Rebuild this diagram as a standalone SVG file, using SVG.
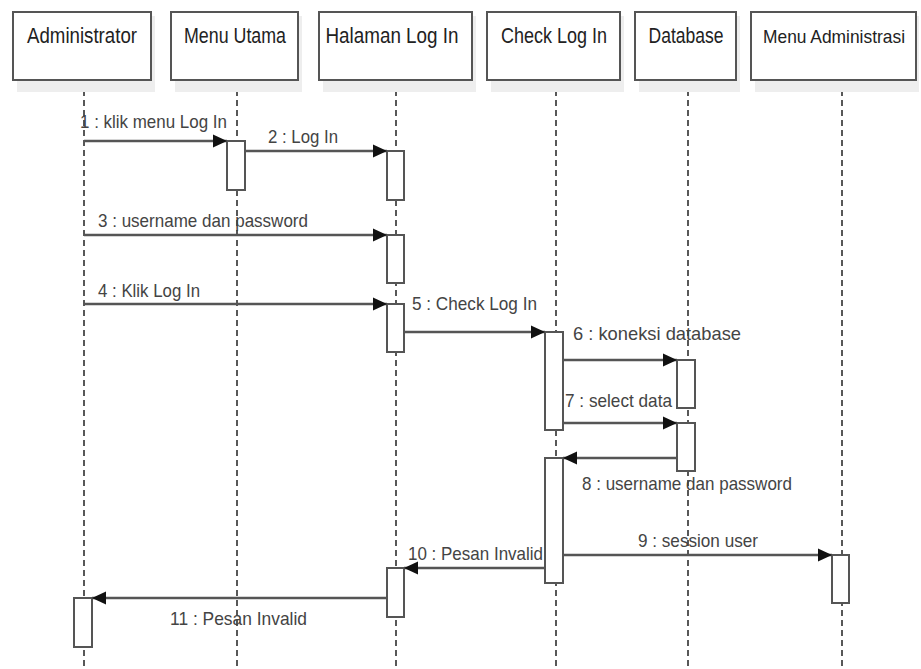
<svg xmlns="http://www.w3.org/2000/svg" width="921" height="669" viewBox="0 0 921 669">
<defs>
<marker id="ah" markerUnits="userSpaceOnUse" markerWidth="16" markerHeight="14" refX="14" refY="7" orient="auto">
<path d="M0,0.5 L14,7 L0,13.5 Z" fill="#111"/>
</marker>
<style>
.box{fill:#fff;stroke:#555;stroke-width:2}
.shadow{fill:#eee}
.life{stroke:#222;stroke-width:1.5;stroke-dasharray:6,4;fill:none}
.act{fill:#fff;stroke:#555;stroke-width:2}
.msg{stroke:#555;stroke-width:2.5;fill:none;marker-end:url(#ah)}
.hdr{font-family:"Liberation Sans",Arial,sans-serif;font-size:22px;fill:#222;text-anchor:middle}
.lbl{font-family:"Liberation Sans",Arial,sans-serif;font-size:19px;fill:#444}
</style>
</defs>
<rect width="921" height="669" fill="#fff"/>
<g id="lifelines">
<line class="life" x1="84" y1="80" x2="84" y2="669"/>
<line class="life" x1="237" y1="80" x2="237" y2="669"/>
<line class="life" x1="396" y1="80" x2="396" y2="669"/>
<line class="life" x1="556" y1="80" x2="556" y2="669"/>
<line class="life" x1="688" y1="80" x2="688" y2="669"/>
<line class="life" x1="842" y1="80" x2="842" y2="669"/>
</g>
<g id="administrator">
<rect class="shadow" x="17" y="16" width="138" height="76"/>
<rect class="box" x="13" y="12" width="138" height="68"/>
<text class="hdr" x="82" y="43" textLength="110" lengthAdjust="spacingAndGlyphs">Administrator</text>
</g>
<g id="menu-utama">
<rect class="shadow" x="175" y="16" width="127" height="76"/>
<rect class="box" x="171" y="12" width="127" height="68"/>
<text class="hdr" x="235" y="43" textLength="102" lengthAdjust="spacingAndGlyphs">Menu Utama</text>
</g>
<g id="halaman-log-in">
<rect class="shadow" x="323" y="16" width="153" height="76"/>
<rect class="box" x="319" y="12" width="153" height="68"/>
<text class="hdr" x="392" y="43" textLength="133" lengthAdjust="spacingAndGlyphs">Halaman Log In</text>
</g>
<g id="check-log-in">
<rect class="shadow" x="491" y="16" width="133" height="76"/>
<rect class="box" x="487" y="12" width="133" height="68"/>
<text class="hdr" x="554" y="43" textLength="106" lengthAdjust="spacingAndGlyphs">Check Log In</text>
</g>
<g id="database">
<rect class="shadow" x="639" y="16" width="101" height="76"/>
<rect class="box" x="635" y="12" width="101" height="68"/>
<text class="hdr" x="686" y="43" textLength="75" lengthAdjust="spacingAndGlyphs">Database</text>
</g>
<g id="menu-administrasi">
<rect class="shadow" x="755" y="16" width="164" height="76"/>
<rect class="box" x="751" y="12" width="165" height="68"/>
<text class="hdr" x="834" y="43" style="font-size:19px" textLength="142" lengthAdjust="spacingAndGlyphs">Menu Administrasi</text>
</g>
<g id="activations">
<rect class="act" x="227" y="141" width="18" height="49"/>
<rect class="act" x="387" y="151" width="17" height="49"/>
<rect class="act" x="387" y="235" width="17" height="48"/>
<rect class="act" x="387" y="304" width="17" height="48"/>
<rect class="act" x="545" y="332" width="18" height="98"/>
<rect class="act" x="677" y="360" width="18" height="48"/>
<rect class="act" x="677" y="423" width="18" height="48"/>
<rect class="act" x="545" y="458" width="18" height="125"/>
<rect class="act" x="832" y="555" width="17" height="48"/>
<rect class="act" x="387" y="568" width="17" height="49"/>
<rect class="act" x="74" y="598" width="18" height="49"/>
</g>
<g id="connectors">
<line class="msg" x1="84" y1="141" x2="227" y2="141"/>
<line class="msg" x1="245" y1="151" x2="387" y2="151"/>
<line class="msg" x1="84" y1="235" x2="387" y2="235"/>
<line class="msg" x1="84" y1="304" x2="387" y2="304"/>
<line class="msg" x1="404" y1="332" x2="545" y2="332"/>
<line class="msg" x1="563" y1="360" x2="677" y2="360"/>
<line class="msg" x1="563" y1="423" x2="677" y2="423"/>
<line class="msg" x1="677" y1="458" x2="563" y2="458"/>
<line class="msg" x1="563" y1="555" x2="832" y2="555"/>
<line class="msg" x1="545" y1="568" x2="404" y2="568"/>
<line class="msg" x1="387" y1="598" x2="92" y2="598"/>
</g>
<g id="labels">
<text class="lbl" x="80" y="128" textLength="147" lengthAdjust="spacingAndGlyphs">1 : klik menu Log In</text>
<text class="lbl" x="268" y="143" textLength="70" lengthAdjust="spacingAndGlyphs">2 : Log In</text>
<text class="lbl" x="98" y="227" textLength="210" lengthAdjust="spacingAndGlyphs">3 : username dan password</text>
<text class="lbl" x="98" y="297" textLength="102" lengthAdjust="spacingAndGlyphs">4 : Klik Log In</text>
<text class="lbl" x="412" y="310" textLength="125" lengthAdjust="spacingAndGlyphs">5 : Check Log In</text>
<text class="lbl" x="573" y="340" textLength="168" lengthAdjust="spacingAndGlyphs">6 : koneksi database</text>
<text class="lbl" x="565" y="407" textLength="107" lengthAdjust="spacingAndGlyphs">7 : select data</text>
<text class="lbl" x="582" y="490" textLength="210" lengthAdjust="spacingAndGlyphs">8 : username dan password</text>
<text class="lbl" x="638" y="547" textLength="120" lengthAdjust="spacingAndGlyphs">9 : session user</text>
<text class="lbl" x="408" y="560" textLength="135" lengthAdjust="spacingAndGlyphs">10 : Pesan Invalid</text>
<text class="lbl" x="170" y="625" textLength="137" lengthAdjust="spacingAndGlyphs">11 : Pesan Invalid</text>
</g>
</svg>
